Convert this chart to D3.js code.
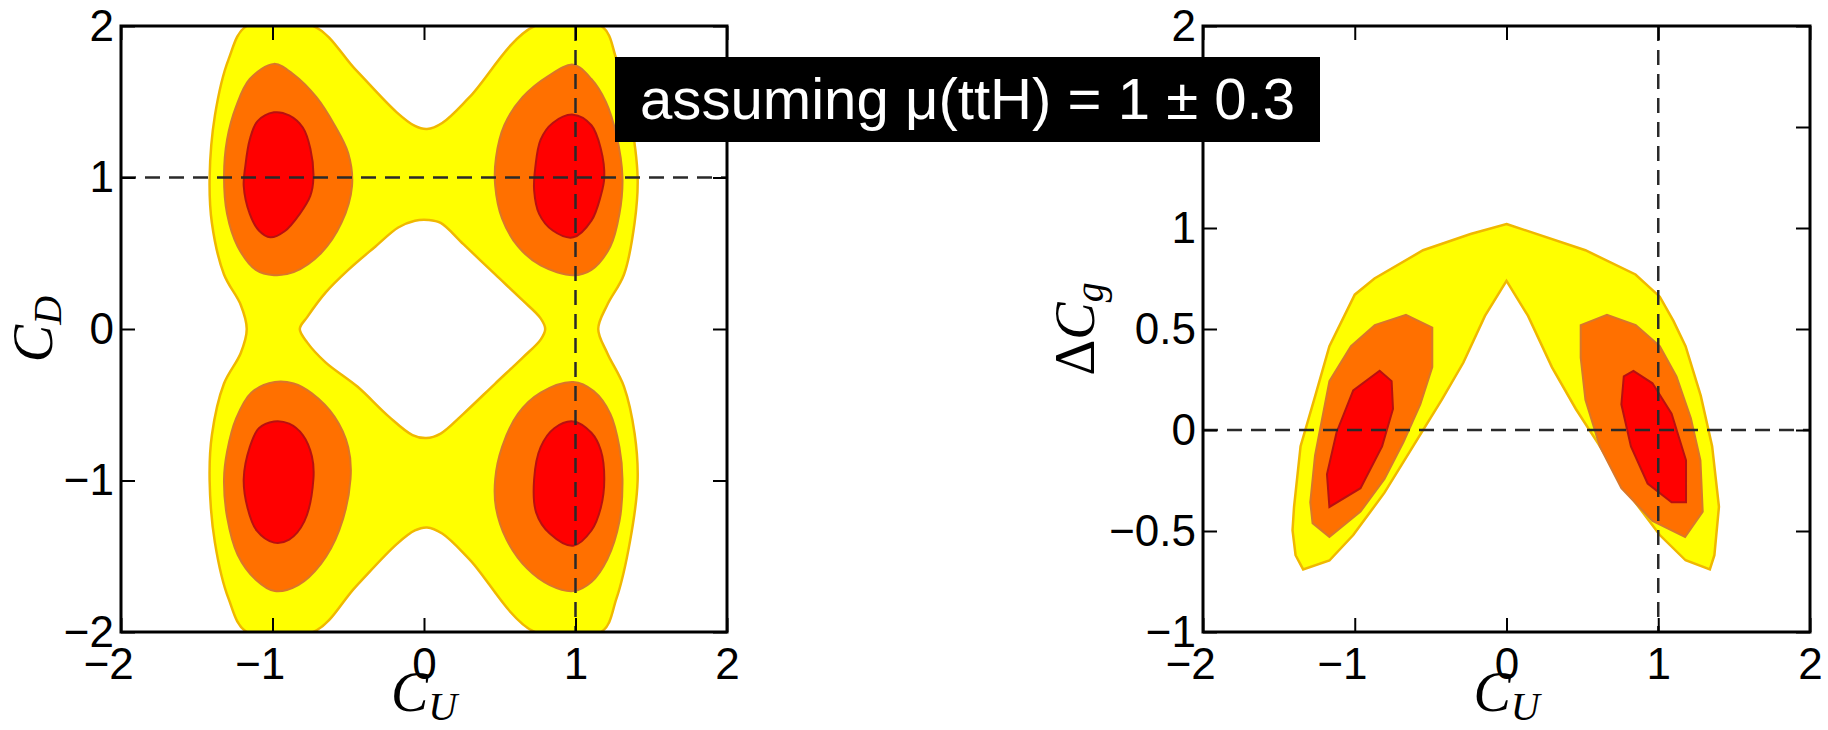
<!DOCTYPE html>
<html>
<head>
<meta charset="utf-8">
<script src="https://cdn.jsdelivr.net/npm/d3@7"></script>
<style>
  body { margin: 0; background: #fff; }
</style>
</head>
<body>
<script>
// Tick values
const cuTicks = [-2, -1, 0, 1, 2];
const cdTicks = [-2, -1, 0, 1, 2];
const dcgTicks = [-1, -0.5, 0, 0.5, 1, 1.5, 2];

// SM reference point (dashed lines)
const smLeft = [1, 1];   // (C_U, C_D)
const smRight = [1, 0];  // (C_U, dC_g)

// ---- Left panel: C_U vs C_D, contour outlines ----
const leftYellowOuter = [
  [-1.17, 2], [-1.29, 1.78], [-1.38, 1.41], [-1.415, 1.0], [-1.40, 0.70], [-1.32, 0.36],
  [-1.21, 0.16], [-1.17, 0.0], [-1.21, -0.16], [-1.32, -0.36], [-1.40, -0.70], [-1.415, -1.0],
  [-1.38, -1.41], [-1.29, -1.78], [-1.17, -2], [-0.73, -2], [-0.45, -1.70], [-0.18, -1.42],
  [-0.06, -1.33], [0.02, -1.31], [0.12, -1.35], [0.30, -1.52], [0.73, -2], [1.17, -2],
  [1.27, -1.78], [1.36, -1.40], [1.41, -1.0], [1.39, -0.69], [1.32, -0.38], [1.21, -0.16],
  [1.15, 0.0], [1.21, 0.16], [1.32, 0.36], [1.39, 0.70], [1.41, 1.0], [1.36, 1.41],
  [1.27, 1.78], [1.17, 2], [0.73, 2], [0.30, 1.53], [0.12, 1.36], [0.02, 1.32],
  [-0.06, 1.34], [-0.18, 1.43], [-0.45, 1.71], [-0.73, 2]
];
const leftYellowHole = [
  [-0.82, 0], [-0.77, 0.08], [-0.65, 0.24], [-0.50, 0.39], [-0.32, 0.545], [-0.17, 0.67],
  [-0.06, 0.715], [0.03, 0.72], [0.11, 0.70], [0.26, 0.56], [0.47, 0.36], [0.65, 0.19],
  [0.77, 0.07], [0.80, 0], [0.77, -0.07], [0.65, -0.19], [0.47, -0.36], [0.26, -0.56],
  [0.11, -0.69], [0.015, -0.72], [-0.076, -0.70], [-0.23, -0.58], [-0.44, -0.38],
  [-0.65, -0.22], [-0.77, -0.09]
];
const leftOrange = [
  [[-0.99, 1.75], [-1.15, 1.65], [-1.24, 1.47], [-1.30, 1.25], [-1.32, 1.01], [-1.30, 0.76],
   [-1.23, 0.545], [-1.11, 0.39], [-0.99, 0.355], [-0.86, 0.375], [-0.68, 0.50], [-0.545, 0.70],
   [-0.475, 0.945], [-0.50, 1.16], [-0.59, 1.345], [-0.71, 1.53], [-0.86, 1.68]],
  [[-0.985, -0.35], [-1.14, -0.42], [-1.24, -0.59], [-1.30, -0.81], [-1.32, -0.99], [-1.30, -1.24],
   [-1.23, -1.49], [-1.11, -1.655], [-0.985, -1.73], [-0.83, -1.69], [-0.68, -1.55], [-0.56, -1.33],
   [-0.485, -0.99], [-0.50, -0.78], [-0.59, -0.58], [-0.74, -0.425], [-0.86, -0.36]],
  [[0.985, 1.745], [0.82, 1.67], [0.65, 1.53], [0.53, 1.345], [0.475, 1.13], [0.47, 0.945],
   [0.515, 0.73], [0.62, 0.545], [0.77, 0.42], [0.985, 0.355], [1.105, 0.39], [1.23, 0.545],
   [1.29, 0.76], [1.31, 1.0], [1.27, 1.28], [1.20, 1.50], [1.105, 1.65]],
  [[0.985, -0.35], [1.12, -0.41], [1.23, -0.56], [1.29, -0.78], [1.31, -0.99], [1.29, -1.27],
   [1.21, -1.52], [1.105, -1.67], [0.985, -1.73], [0.83, -1.69], [0.68, -1.58], [0.545, -1.39],
   [0.475, -1.18], [0.47, -0.99], [0.515, -0.78], [0.62, -0.56], [0.77, -0.42]]
];
const leftRed = [
  [[-0.99, 1.43], [-1.10, 1.37], [-1.15, 1.25], [-1.18, 1.07], [-1.19, 0.945], [-1.15, 0.76],
   [-1.09, 0.65], [-1.015, 0.605], [-0.92, 0.645], [-0.82, 0.76], [-0.75, 0.88], [-0.73, 1.0],
   [-0.75, 1.19], [-0.80, 1.33], [-0.89, 1.41]],
  [[-0.99, -0.61], [-1.09, -0.655], [-1.15, -0.78], [-1.19, -0.99], [-1.165, -1.18], [-1.105, -1.33],
   [-0.99, -1.41], [-0.89, -1.39], [-0.79, -1.27], [-0.73, -0.99], [-0.74, -0.84], [-0.80, -0.70],
   [-0.89, -0.625]],
  [[0.985, 1.415], [0.85, 1.36], [0.77, 1.25], [0.735, 1.07], [0.727, 0.915], [0.76, 0.76],
   [0.85, 0.65], [0.985, 0.605], [1.105, 0.715], [1.167, 0.88], [1.19, 1.0], [1.167, 1.19],
   [1.105, 1.345]],
  [[0.985, -0.61], [0.86, -0.655], [0.77, -0.78], [0.727, -0.99], [0.74, -1.21], [0.83, -1.35],
   [0.985, -1.43], [1.105, -1.33], [1.167, -1.18], [1.19, -0.99], [1.167, -0.80], [1.105, -0.685]]
];

// ---- Right panel: C_U vs Delta C_g ----
const rightYellow = [
  [0, 1.02], [0.52, 0.89], [0.85, 0.77], [1.01, 0.66], [1.10, 0.54], [1.18, 0.415], [1.28, 0.17],
  [1.355, -0.08], [1.40, -0.38], [1.37, -0.62], [1.34, -0.69], [1.18, -0.645], [1.01, -0.52],
  [0.80, -0.31], [0.615, -0.08], [0.457, 0.104], [0.30, 0.31], [0.142, 0.565], [0, 0.738],
  [-0.142, 0.565], [-0.284, 0.334], [-0.426, 0.15], [-0.615, -0.08], [-0.804, -0.31],
  [-1.01, -0.52], [-1.167, -0.646], [-1.34, -0.69], [-1.39, -0.62], [-1.41, -0.496],
  [-1.40, -0.38], [-1.357, -0.08], [-1.26, 0.17], [-1.167, 0.415], [-1.0, 0.67],
  [-0.87, 0.75], [-0.55, 0.89], [-0.237, 0.97]
];
const rightOrange = [
  [[-0.662, 0.57], [-0.489, 0.507], [-0.489, 0.311], [-0.568, 0.127], [-0.678, -0.058],
   [-0.804, -0.242], [-0.962, -0.404], [-1.167, -0.53], [-1.278, -0.461], [-1.293, -0.358],
   [-1.262, -0.127], [-1.167, 0.242], [-1.025, 0.415], [-0.868, 0.519]],
  [[0.489, 0.519], [0.662, 0.57], [0.852, 0.519], [1.01, 0.415], [1.12, 0.265], [1.215, 0.058],
   [1.278, -0.15], [1.293, -0.404], [1.177, -0.53], [0.962, -0.45], [0.757, -0.288],
   [0.615, -0.081], [0.52, 0.15], [0.489, 0.358]]
];
const rightRed = [
  [[-0.836, 0.293], [-0.757, 0.242], [-0.748, 0.104], [-0.82, -0.081], [-0.962, -0.288],
   [-1.167, -0.381], [-1.183, -0.219], [-1.12, -0.012], [-1.01, 0.196]],
  [[0.836, 0.293], [0.962, 0.231], [1.088, 0.081], [1.183, -0.15], [1.183, -0.358],
   [1.088, -0.358], [0.93, -0.265], [0.82, -0.081], [0.757, 0.127], [0.773, 0.265]]
];

const titleText = 'assuming \u03bc(ttH) = 1 \u00b1 0.3';

// Width and height
const w = 1828;
const h = 730;
const tickLen = 14;

const sansFont = "'Liberation Sans', Arial, Helvetica, sans-serif";
const serifFont = "'Liberation Serif', 'DejaVu Serif', serif";

const colors = {
  yellow: '#ffff00', yellowEdge: '#f0b800',
  orange: '#ff7000', orangeEdge: '#d9772a',
  red: '#ff0000', redEdge: '#b81010'
};

const fmt = d => (d < 0 ? '\u2212' : '') + Math.abs(d);

const svg = d3
  .select('body')
  .append('svg')
  .attr('width', w)
  .attr('height', h)
  .style('font-family', sansFont);

function drawPanel(p) {
  const g = svg
    .append('g')
    .attr('transform', 'translate(' + p.left + ',' + p.top + ')');

  const xScale = d3.scaleLinear().domain(p.xDomain).range([0, p.width]);
  const yScale = d3.scaleLinear().domain(p.yDomain).range([p.height, 0]);

  g.append('clipPath')
    .attr('id', p.id + '-area')
    .append('rect')
    .attr('width', p.width)
    .attr('height', p.height);

  const plot = g.append('g').attr('clip-path', 'url(#' + p.id + '-area)');

  const line = d3
    .line()
    .x(d => xScale(d[0]))
    .y(d => yScale(d[1]))
    .curve(p.curve);

  // Yellow band (with optional hole)
  plot
    .append('path')
    .attr('d', p.yellow.map(r => line(r)).join(' '))
    .attr('fill', colors.yellow)
    .attr('fill-rule', 'evenodd')
    .attr('stroke', colors.yellowEdge)
    .attr('stroke-width', 2.5);

  plot
    .selectAll('path.orange')
    .data(p.orange)
    .enter()
    .append('path')
    .attr('class', 'orange')
    .attr('d', line)
    .attr('fill', colors.orange)
    .attr('stroke', colors.orangeEdge)
    .attr('stroke-width', 2);

  plot
    .selectAll('path.red')
    .data(p.red)
    .enter()
    .append('path')
    .attr('class', 'red')
    .attr('d', line)
    .attr('fill', colors.red)
    .attr('stroke', colors.redEdge)
    .attr('stroke-width', 2);

  // Dashed SM lines
  plot
    .append('line')
    .attr('x1', 0)
    .attr('x2', p.width)
    .attr('y1', yScale(p.sm[1]))
    .attr('y2', yScale(p.sm[1]));
  plot
    .append('line')
    .attr('x1', xScale(p.sm[0]))
    .attr('x2', xScale(p.sm[0]))
    .attr('y1', 0)
    .attr('y2', p.height);
  plot
    .selectAll('line')
    .attr('stroke', '#2a2a2a')
    .attr('stroke-width', 2.5)
    .attr('stroke-dasharray', '15,9');

  // Axes with inward ticks on all four sides
  const styleAxis = sel => {
    sel.select('.domain').remove();
    sel.selectAll('.tick line').attr('stroke', '#000').attr('stroke-width', 2);
    sel.selectAll('.tick text').attr('fill', '#000');
    sel.attr('font-size', 44).attr('font-family', sansFont);
  };

  g.append('g')
    .attr('transform', 'translate(0,' + p.height + ')')
    .call(
      d3.axisBottom(xScale).tickValues(p.xTicks).tickSize(-tickLen).tickPadding(16).tickFormat(fmt)
    )
    .call(styleAxis)
    .call(sel => sel.selectAll('.tick text').attr('dx', d => (d < 0 ? '-0.29em' : 0)));

  g.append('g')
    .call(
      d3.axisLeft(yScale).tickValues(p.yTicks).tickSize(-tickLen).tickPadding(7).tickFormat(fmt)
    )
    .call(styleAxis);

  g.append('g')
    .call(d3.axisTop(xScale).tickValues(p.xTicks).tickSize(-tickLen).tickFormat(''))
    .call(styleAxis);

  g.append('g')
    .attr('transform', 'translate(' + p.width + ',0)')
    .call(d3.axisRight(yScale).tickValues(p.yTicks).tickSize(-tickLen).tickFormat(''))
    .call(styleAxis);

  // Frame
  g.append('rect')
    .attr('width', p.width)
    .attr('height', p.height)
    .attr('fill', 'none')
    .attr('stroke', '#000')
    .attr('stroke-width', 3);

  // X label C_U
  const xl = svg
    .append('text')
    .attr('x', p.left + p.width / 2)
    .attr('y', 711)
    .attr('text-anchor', 'middle')
    .style('font-family', serifFont)
    .style('font-style', 'italic')
    .attr('font-size', 56);
  xl.append('tspan').text('C');
  xl.append('tspan').attr('font-size', 40).attr('dy', 9).text('U');

  // Y label
  const yl = svg
    .append('text')
    .attr('transform', 'translate(' + p.yLabelX + ',' + (p.top + p.height / 2) + ') rotate(-90)')
    .attr('text-anchor', 'middle')
    .style('font-family', serifFont)
    .attr('font-size', 56);
  p.yLabel.forEach(part => {
    yl.append('tspan')
      .style('font-style', part.italic ? 'italic' : 'normal')
      .attr('font-size', part.sub ? 40 : 56)
      .attr('dy', part.dy || 0)
      .text(part.t);
  });
}

drawPanel({
  id: 'left',
  left: 121,
  top: 26,
  width: 606,
  height: 606,
  xDomain: [-2, 2],
  yDomain: [-2, 2],
  xTicks: cuTicks,
  yTicks: cdTicks,
  curve: d3.curveCatmullRomClosed.alpha(0.5),
  yellow: [leftYellowOuter, leftYellowHole],
  orange: leftOrange,
  red: leftRed,
  sm: smLeft,
  yLabelX: 52,
  yLabel: [{ t: 'C', italic: true }, { t: 'D', italic: true, sub: true, dy: 9 }]
});

drawPanel({
  id: 'right',
  left: 1203,
  top: 26,
  width: 607,
  height: 606,
  xDomain: [-2, 2],
  yDomain: [-1, 2],
  xTicks: cuTicks,
  yTicks: dcgTicks,
  curve: d3.curveLinearClosed,
  yellow: [rightYellow],
  orange: rightOrange,
  red: rightRed,
  sm: smRight,
  yLabelX: 1094,
  yLabel: [
    { t: '\u0394' },
    { t: 'C', italic: true },
    { t: 'g', italic: true, sub: true, dy: 9 }
  ]
});

// Annotation box on top
svg
  .append('rect')
  .attr('x', 615)
  .attr('y', 57)
  .attr('width', 705)
  .attr('height', 85)
  .attr('fill', '#000');

svg
  .append('text')
  .attr('x', 640)
  .attr('y', 119)
  .attr('fill', '#fff')
  .attr('font-size', 57)
  .attr('textLength', 655)
  .attr('lengthAdjust', 'spacingAndGlyphs')
  .text(titleText);
</script>
</body>
</html>
